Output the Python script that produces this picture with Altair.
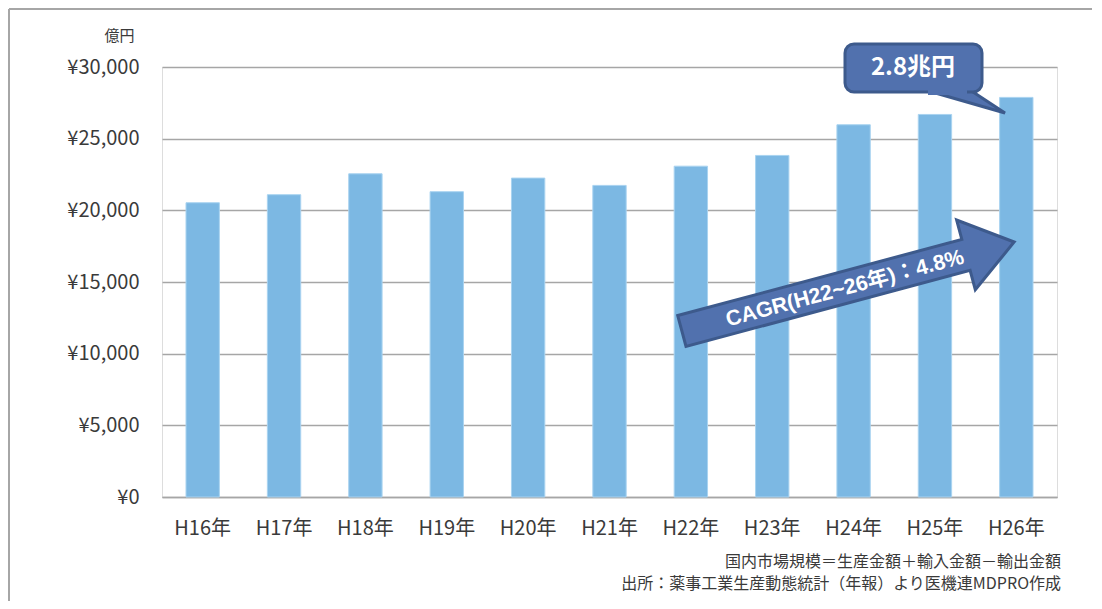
import altair as alt
import pandas as pd

# ---- data ----
years = ["H16年", "H17年", "H18年", "H19年", "H20年", "H21年",
         "H22年", "H23年", "H24年", "H25年", "H26年"]
market = [20530, 21090, 22550, 21300, 22250, 21740,
          23080, 23830, 25970, 26690, 27880]
y_ticks = [0, 5000, 10000, 15000, 20000, 25000, 30000]
unit_label = ["億円"]
callout_text = ["2.8兆円"]
cagr_text = ["CAGR(H22~26年)：4.8%"]
notes = ["国内市場規模＝生産金額＋輸入金額－輸出金額",
         "出所：薬事工業生産動態統計（年報）より医機連MDPRO作成"]

W, H = 895, 430
GRID = "#a6a6a6"
BAR = "#7cb8e3"
BOX = "#5171ae"
BOXS = "#3d5a8c"
TXT = "#3a3a3a"
FONT = "Noto Sans CJK JP"

df = pd.DataFrame({"year": years, "value": market})

bars = alt.Chart(df).mark_bar(color=BAR, stroke="#a9d3f0", strokeWidth=1).encode(
    x=alt.X("year:N", sort=years, title=None,
            scale=alt.Scale(paddingInner=0.59, paddingOuter=0.295),
            axis=alt.Axis(labelAngle=0, ticks=False, domainColor=GRID, domainWidth=1.5,
                          labelFontSize=20, labelColor=TXT, labelFont=FONT,
                          labelPadding=21)),
    y=alt.Y("value:Q", title=unit_label[0],
            scale=alt.Scale(domain=[0, 30000], nice=False),
            axis=alt.Axis(values=y_ticks, labelExpr="'¥' + format(datum.value, ',')",
                          ticks=False, domain=False, gridColor=GRID, gridWidth=1.5,
                          labelFontSize=20, labelColor=TXT, labelFont=FONT,
                          labelPadding=23,
                          titleAngle=0, titleX=-28, titleY=-32, titleAlign="right",
                          titleBaseline="middle", titleFontSize=15,
                          titleFontWeight="normal", titleColor=TXT, titleFont=FONT)),
)

one = pd.DataFrame({"k": [0]})

# outer frame (left and top edges)
frame_left = alt.Chart(one).mark_rule(color=GRID, strokeWidth=2).encode(
    x=alt.value(-153), y=alt.value(-58), y2=alt.value(H + 110))
frame_top = alt.Chart(one).mark_rule(color=GRID, strokeWidth=2).encode(
    x=alt.value(-153), x2=alt.value(W + 40), y=alt.value(-58))

# callout tail (triangle), box, joint cover, text
tail = alt.Chart(one).mark_point(
    shape="M -1 -0.3 L 0.125 -0.3 L 1 0.275 Z", filled=True, fill=BOX,
    stroke=BOXS, strokeWidth=3, opacity=1, fillOpacity=1
).encode(x=alt.value(803), y=alt.value(35), size=alt.value(6400))

box = alt.Chart(one).mark_rect(
    fill=BOX, stroke=BOXS, strokeWidth=3, cornerRadius=9
).encode(x=alt.value(683), x2=alt.value(820), y=alt.value(-23), y2=alt.value(25))

cover = alt.Chart(one).mark_rect(fill=BOX).encode(
    x=alt.value(766), x2=alt.value(805), y=alt.value(20), y2=alt.value(28))

callout = alt.Chart(pd.DataFrame({"t": callout_text})).mark_text(
    color="white", fontSize=24, fontWeight="bold", font=FONT,
    align="center", baseline="middle"
).encode(x=alt.value(751), y=alt.value(1), text="t:N")

# CAGR arrow
arrow = alt.Chart(one).mark_point(
    shape="M -1 -0.093 L 0.71 -0.093 L 0.71 -0.21 L 1 0 L 0.71 0.21 L 0.71 0.093 L -1 0.093 Z",
    filled=True, fill=BOX, stroke=BOXS, strokeWidth=3, opacity=1, fillOpacity=1, angle=345
).encode(x=alt.value(686), y=alt.value(219.5), size=alt.value(118336))

cagr = alt.Chart(pd.DataFrame({"t": cagr_text})).mark_text(
    color="white", fontSize=21.5, fontWeight="bold",
    font="Liberation Sans, Noto Sans CJK JP", angle=345,
    align="center", baseline="middle"
).encode(x=alt.value(683), y=alt.value(222), text="t:N")

# footnotes
note1 = alt.Chart(pd.DataFrame({"t": [notes[0]]})).mark_text(
    color=TXT, fontSize=16, font=FONT, align="right", baseline="middle"
).encode(x=alt.value(899), y=alt.value(495), text="t:N")
note2 = alt.Chart(pd.DataFrame({"t": [notes[1]]})).mark_text(
    color=TXT, fontSize=16, font=FONT, align="right", baseline="middle"
).encode(x=alt.value(899), y=alt.value(517), text="t:N")

chart = alt.layer(
    bars, frame_left, frame_top, tail, box, cover, callout, arrow, cagr, note1, note2
).properties(
    width=W, height=H,
    autosize=alt.AutoSizeParams(type="none"),
    padding={"left": 154, "top": 59, "right": 35, "bottom": 104},
).configure_view(stroke=None).configure(background="white")

chart.save("out.html", embed_options={"renderer": "svg", "actions": False})
